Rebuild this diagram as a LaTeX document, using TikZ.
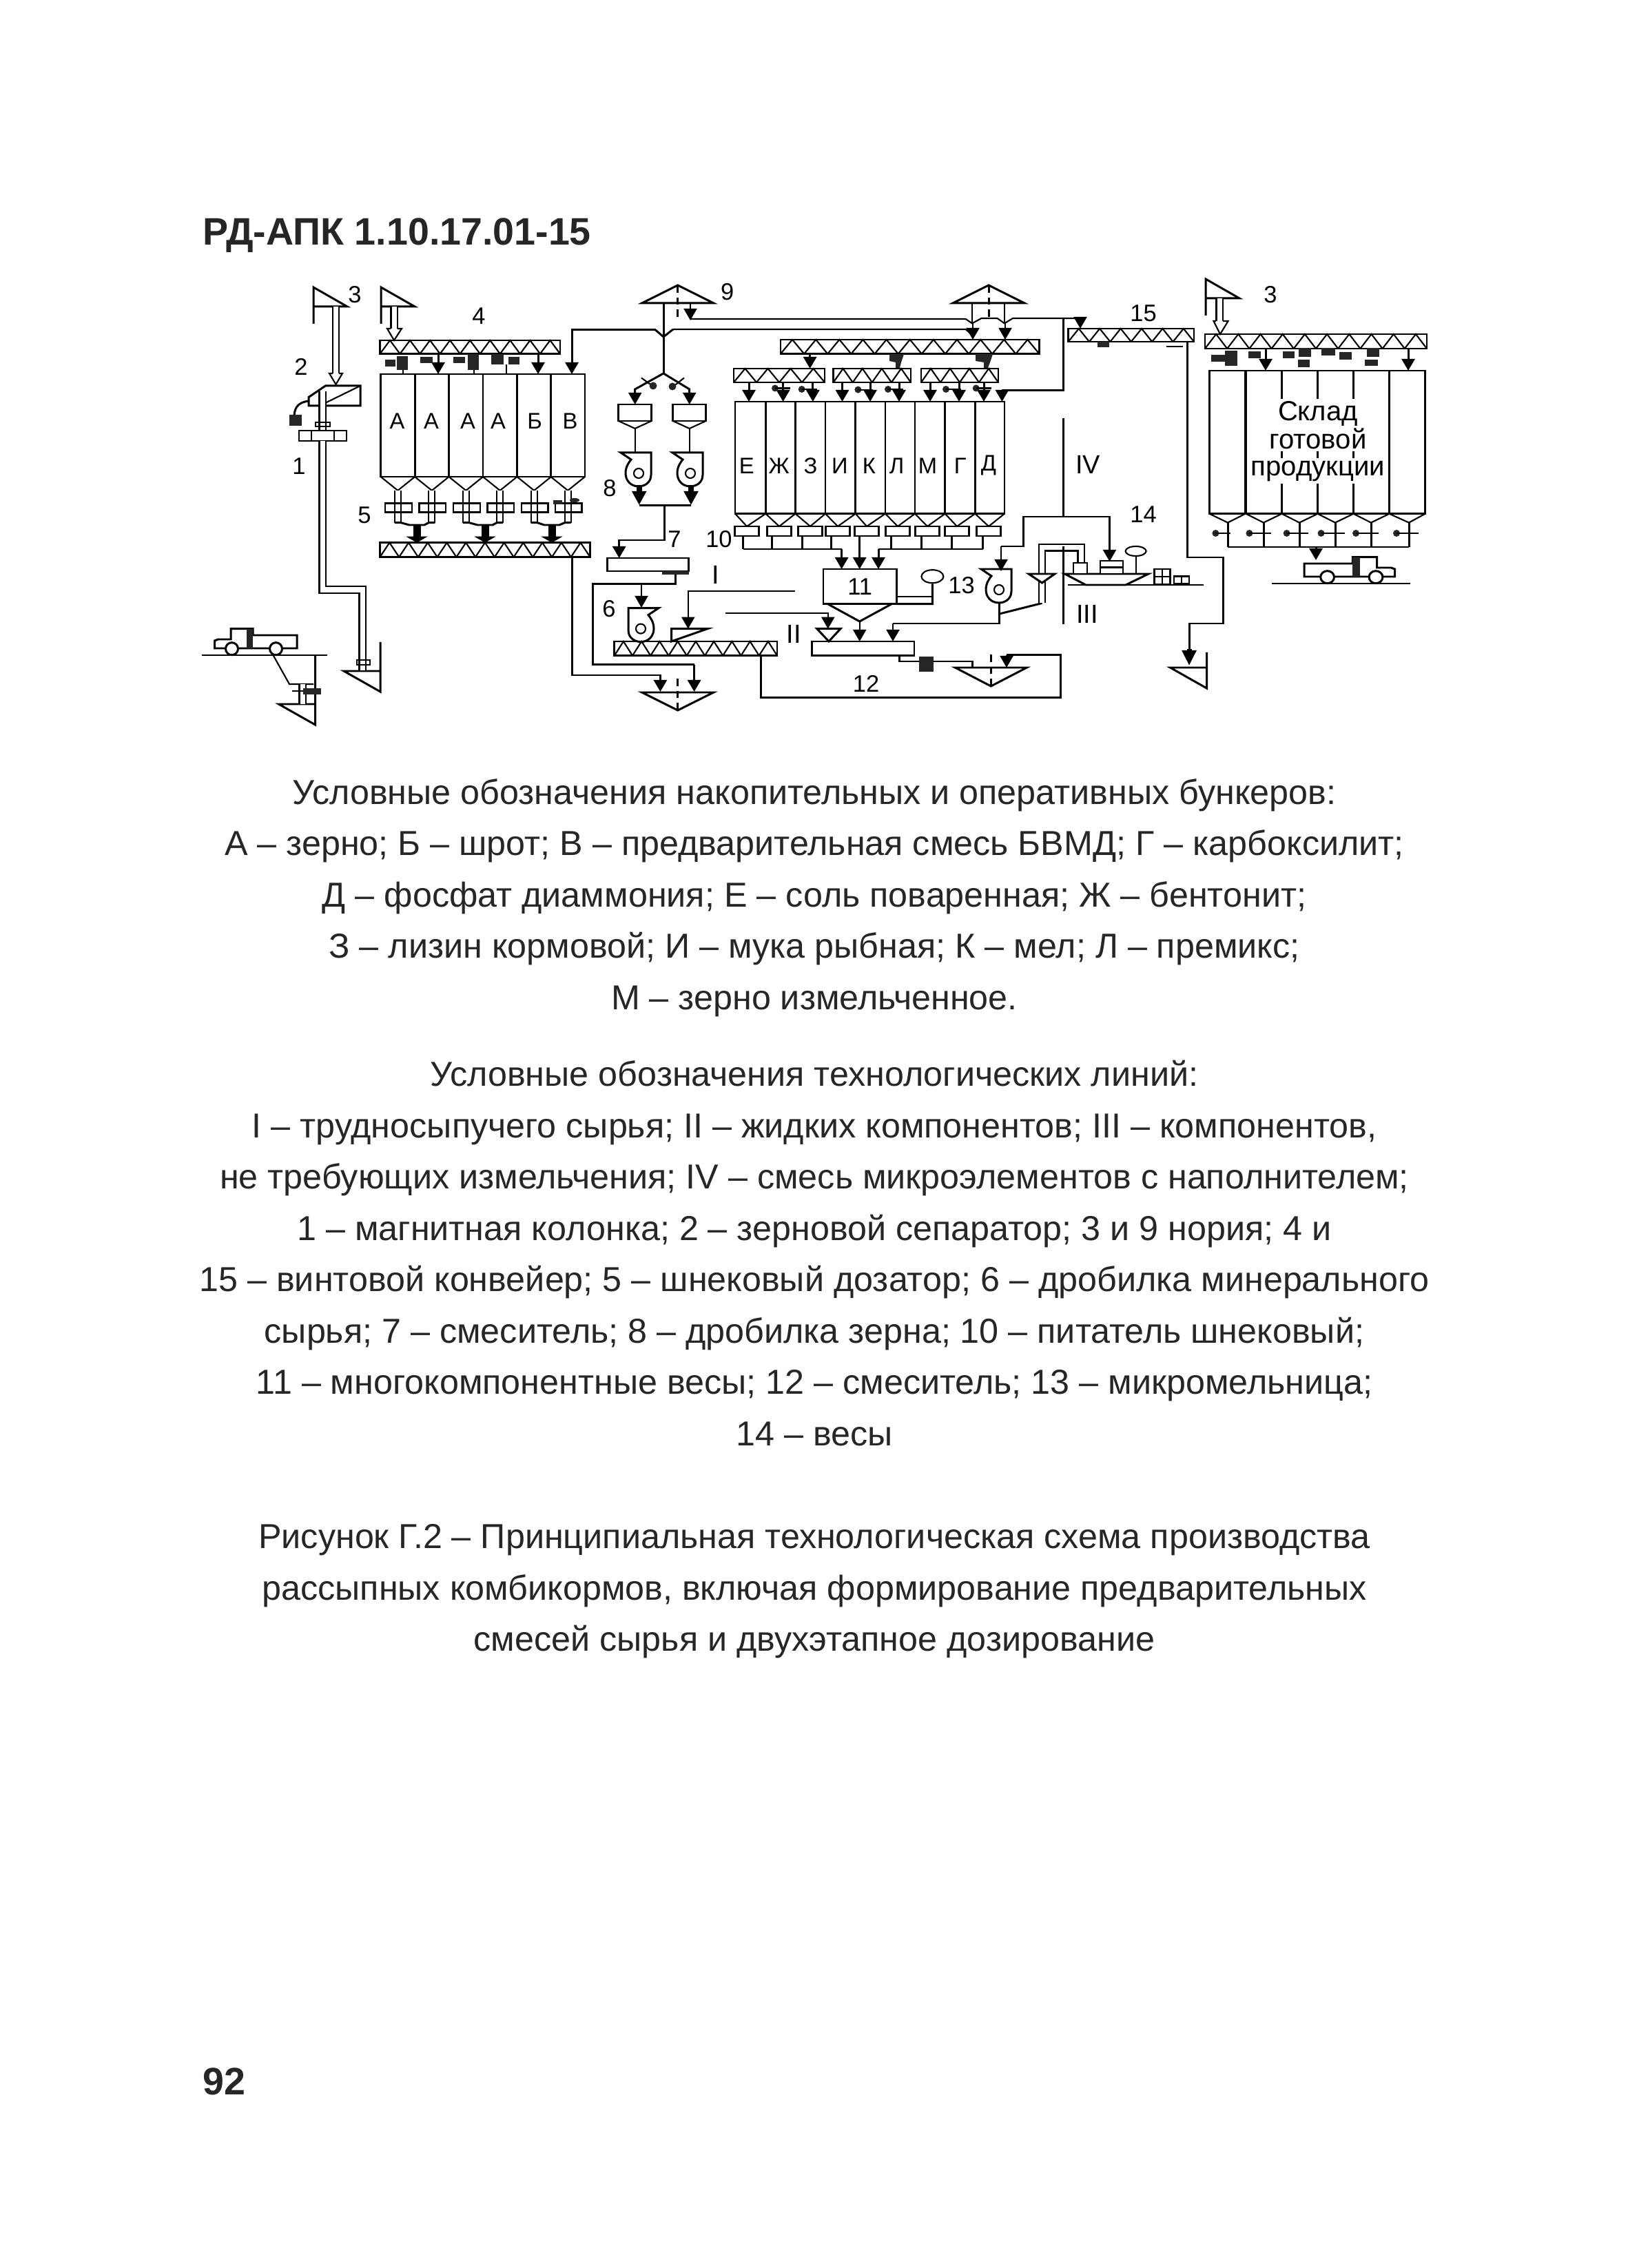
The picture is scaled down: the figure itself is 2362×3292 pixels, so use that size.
\documentclass[tikz,border=0pt]{standalone}
\usepackage{fontspec}
\setmainfont{Liberation Sans}
\usetikzlibrary{shapes.geometric, arrows.meta, calc}

\tikzset{
    pipe/.style={line width=0.6pt, line join=miter},
    heavy/.style={line width=0.85pt},
    flow/.style={pipe, -{Triangle[width=.19cm, length=.17cm]}},
    flowh/.style={heavy, -{Triangle[width=.19cm, length=.17cm]}},
    bigflow/.style={line width=.11cm, -{Triangle[width=.31cm, length=.09cm]}},
    twin/.style={line width=0.6pt, double, double distance=.07cm},
    wall/.style={draw, line width=0.8pt, inner sep=0, outer sep=0},
    smallbox/.style={draw, line width=0.6pt, inner sep=0, outer sep=0, fill=white},
    blob/.style={fill=black!85},
    lbl/.style={font=\fontsize{9.3}{11}\selectfont, inner sep=0},
    numlbl/.style={font=\fontsize{9.8}{11}\selectfont, inner sep=0},
    romanlbl/.style={font=\fontsize{10.8}{12}\selectfont, inner sep=0},
    blocktext/.style={font=\fontsize{14.3}{21.2}\selectfont, align=center, inner sep=0, text=black!85},
    titletext/.style={font=\fontsize{15.8}{18}\bfseries\selectfont, anchor=west, inner sep=0, text=black!85},
    storetext/.style={font=\fontsize{11.4}{12}\selectfont, inner sep=1pt, fill=white, anchor=base}
}

% conveyor: name, x1, y1, x2, y2, teeth
\newcommand{\conveyor}[6]{
    \node[wall, minimum width={(#4-#2)*0.01cm}, minimum height={(#5-#3)*0.01cm}] (#1) at ({(#2+#4)/2},{(#3+#5)/2}) {};
    \pgfmathsetmacro{\beltstep}{(#4-#2)/#6}
    \foreach \i in {1,...,#6}
        \draw[pipe] ({#2+(\i-1)*\beltstep},#5) -- ({#2+(\i-.5)*\beltstep},#3) -- ({#2+\i*\beltstep},#5);
}
% mill: name, x, y, side
\newcommand{\mill}[4]{
    \node[draw, circle, pipe, minimum size=.14cm, inner sep=0] (#1) at (#2,#3) {};
    \begin{scope}[shift={(#2,#3)}, xscale=#4]
        \draw[heavy] (-26,-30) -- (18,-30) -- (18,2) .. controls (18,14) and (8,19) .. (0,19) .. controls (-12,19) and (-19,10) .. (-19,0) .. controls (-19,-10) and (-14,-16) .. (-11,-20) -- cycle;
    \end{scope}
}
% truck: x, ground y, side, stretch
\newcommand{\truck}[3]{
    \begin{scope}[shift={(#1,#2)}, xscale=#3]
        \draw[heavy] (0,-10) -- (0,-21) -- (5,-23) -- (23.5,-23) -- (23.5,-38.4) -- (55.5,-38.4) -- (55.5,-29) -- (119.5,-29) -- (119.5,-10) -- cycle;
        \fill[blob] (46,-38.4) rectangle (55.5,-10);
        \draw[heavy, fill=white] (25,-9.3) circle (.09cm);
        \draw[heavy, fill=white] (89,-9.3) circle (.09cm);
    \end{scope}
}

\begin{document}
\begin{tikzpicture}[x=0.01cm, y=-0.01cm]
    \useasboundingbox (0,0) rectangle (2362,3292);

    % Page text
    \node[titletext] (headline) at (294,342) {РД-АПК 1.10.17.01-15};
    \node[titletext] (pageno) at (294,3021) {92};
    \node[blocktext] (legend1) at (1182,1303) {Условные обозначения накопительных и оперативных бункеров:\\
        А – зерно; Б – шрот; В – предварительная смесь БВМД; Г – карбоксилит;\\
        Д – фосфат диаммония; Е – соль поваренная; Ж – бентонит;\\
        З – лизин кормовой; И – мука рыбная; К – мел; Л – премикс;\\
        М – зерно измельченное.};
    \node[blocktext] (legend2) at (1182,1819) {Условные обозначения технологических линий:\\
        I – трудносыпучего сырья; II – жидких компонентов; III – компонентов,\\
        не требующих измельчения; IV – смесь микроэлементов с наполнителем;\\
        1 – магнитная колонка; 2 – зерновой сепаратор; 3 и 9 нория; 4 и\\
        15 – винтовой конвейер; 5 – шнековый дозатор; 6 – дробилка минерального\\
        сырья; 7 – смеситель; 8 – дробилка зерна; 10 – питатель шнековый;\\
        11 – многокомпонентные весы; 12 – смеситель; 13 – микромельница;\\
        14 – весы};
    \node[blocktext] (caption) at (1182,2310) {Рисунок Г.2 – Принципиальная технологическая схема производства\\
        рассыпных комбикормов, включая формирование предварительных\\
        смесей сырья и двухэтапное дозирование};

    % Elevator flags and funnels
    \foreach \x/\yt in {455/417, 553/417, 1750/405}
        \draw[heavy] (\x,\yt+53) -- (\x,\yt) -- (\x+49,\yt+28) -- (\x,\yt+28);
    \foreach \x/\yb/\yt in {499/974/932, 404.5/1022/951, 1698.5/969/947}
        \draw[heavy] (\x+53,\yt) -- (\x+53,\yb+30) -- (\x,\yb) -- (\x+53,\yb);
    \foreach \x/\ya/\yb/\yc in {983.7/414/440/462, 1435/414/440/462, 983.7/1031/1005/982, 1438.3/996/969/947} {
        \draw[heavy] (\x-52,\yb) -- (\x,\ya) -- (\x+52,\yb) -- cycle;
        \draw[heavy, densely dashed] (\x,\ya) -- (\x,\yc);
    }

    % Intake line
    \coordinate (sep2) at (487.5,445);
    \coordinate (in2) at (487.5,545);
    \draw[twin] (sep2) -- (in2);
    \draw[pipe, fill=white] (483,542) -- (478,542) -- (487.5,558) -- (497,542) -- (492,542);
    \draw[heavy] (448,589) -- (448,576.5) -- (472.5,560) -- (523,560) -- (523,589) -- cycle;
    \draw[pipe] (523,560) -- (472,585);
    \draw[twin] (468,568) -- (468,625);
    \draw[heavy] (448,582) .. controls (434,584) and (428,590) .. (427,603);
    \fill[blob] (420,602.5) rectangle (438,618);
    \draw[pipe] (458,613) rectangle (479,619);
    \node[smallbox, minimum width=.69cm, minimum height=.15cm] (col1) at (468.5,632.5) {};
    \draw[pipe] (452,625) -- (452,640) (485,625) -- (485,640);
    \coordinate (pit1) at (526,973);
    \draw[twin] (col1.south -| 468,0) -- (468,856) -- (526,856) -- (pit1);
    \draw[pipe] (518,958) rectangle (537,965);

    % Left truck and pit
    \truck{311.5}{951}{1}
    \coordinate (grl) at (293,951);
    \draw[heavy] (grl) -- (475,951);
    \draw[pipe] (396.5,951) -- (420,993) -- (455,993);
    \draw[twin] (439,993) -- (439,1022);
    \fill[blob] (440,999) rectangle (466,1008);
    \draw[pipe] (424,1003) -- (440,1003);

    % First bank of bins
    \coordinate (nr2) at (572,445);
    \draw[twin] (nr2) -- (572,480);
    \draw[pipe, fill=white] (567,477) -- (562,477) -- (572,494) -- (583,477) -- (576.5,477);
    \conveyor{conv4}{551.5}{494}{813}{513.6}{9}
    \foreach \n/\cx/\lx/\t in {1/577.4/576.4/А, 2/626.8/626/А, 3/676.3/679/А, 4/725.7/723/А, 5/775.2/776/Б, 6/824.2/827.5/В} {
        \node[wall, minimum width=.494cm, minimum height=1.49cm] (sa\n) at (\cx,617.5) {};
        \node[lbl] (ta\n) at (\lx,611) {\t};
        \draw[pipe] (sa\n.south west) -- (\cx,712) -- (sa\n.south east);
        \draw[twin] (\cx,712) -- (\cx,758.6);
        \node[smallbox, fill=none, minimum width=.385cm, minimum height=.13cm] (fa\n) at (\cx+1,737) {};
    }
    \foreach \l/\r/\mid in {1/2/605, 3/4/704, 5/6/801} {
        \coordinate (ma\mid) at (\mid,762);
        \draw[heavy] ($(sa\l.south)+(-4.5,66.6)$) -- ($(sa\l.south)+(4.5,66.6)$) -- (\mid-11,762) -- (\mid+11,762) -- ($(sa\r.south)+(-4.5,66.6)$) -- ($(sa\r.south)+(4.5,66.6)$);
    }
    \conveyor{conv5}{551.5}{787.7}{856.5}{808.5}{11}
    \foreach \mid in {605, 704, 801}
        \draw[bigflow] (ma\mid) -- (ma\mid |- conv5.north);
    \foreach \xa/\ya/\xb/\yb in {559/522/574/532, 576/517/592/537, 610/518/628/527, 657.5/518/675/527, 679/514/695/531, 679/529/695/537, 713/514/731/529, 738/518/754/529}
        \fill[blob] (\xa,\ya) rectangle (\xb,\yb);
    \foreach \x in {636, 781}
        \draw[flowh] (\x,513.6) -- (\x,543);
    \draw[pipe] (585,537) -- (585,543) (688,537) -- (688,543) (735,529) -- (735,543);
    \fill[blob] (803,726) rectangle (816,732);
    \fill[blob] (834,726) ellipse (.07cm and .03cm);

    % Elevator 9 and distribution
    \coordinate (jn9) at (963,542);
    \draw[heavy] (963,440) -- (jn9);
    \draw[flowh] (951.5,479) -- (830,479) -- (sa6.north -| 830,0);
    \draw[heavy] (951.5,479) -- (963,489);
    \draw[heavy] (977,478) -- (963,489);
    \draw[pipe] (977,478) -- (1401.6,478) -- (1412,487);
    \draw[flow] (1002,440) -- (1002,465);
    \draw[pipe] (1002,463) -- (1401.6,463) -- (1411,469.4) -- (1424.5,462) -- (1447.5,462) -- (1458,469.4) -- (1470,462) -- (1568,462);
    \draw[pipe] (1411,440) -- (1411,469.4) (1458,440) -- (1458,469.4);
    \conveyor{convu}{1133}{493}{1508.5}{513.6}{11}
    \foreach \x in {1412, 1459}
        \draw[flow] (\x,469.4) -- (\x,0 |- convu.north);

    % Grain crushers
    \foreach \n/\cx/\gx/\gy/\ex in {1/921.7/948/560/931, 2/1000.7/976/561/993} {
        \draw[heavy] (jn9) -- (\cx,565) -- (\cx,575);
        \draw[pipe] (\ex,548.5) -- (\gx,\gy+1);
        \fill[blob] (\gx,\gy) circle (.055cm);
        \node[wall, minimum width=.48cm, minimum height=.24cm] (hop\n) at (\cx,599) {};
        \draw[flow] (\cx,570) -- (hop\n.north);
        \draw[pipe] (hop\n.south west) -- (\cx,622) -- (hop\n.south east);
        \draw[pipe] (\cx,622) -- (\cx,657);
    }
    \mill{cr1}{927}{687}{1}
    \mill{cr2}{1002}{687}{1}
    \coordinate (out8a) at (927.7,704);
    \coordinate (out8b) at (1003,704);
    \foreach \p in {out8a, out8b} \draw[bigflow, -{Triangle[width=.2cm, length=.2cm]}, line width=.08cm] (\p) -- ($(\p)+(0,29)$);
    \draw[heavy] (927.7,733.5) -- (1003,733.5);

    % Mixer 7 and mineral crusher 6
    \node[wall, minimum width=1.18cm, minimum height=.19cm] (mix7) at (940.8,819.5) {};
    \fill[blob] (960.7,829) rectangle (999.8,834.5);
    \draw[flowh] (964.4,733.5) -- (964.4,784) -- (898.7,784) -- (mix7.north -| 898.7,0);
    \draw[heavy] (980,834) -- (980,847.5) -- (860.6,847.5) -- (860.6,964.6) -- (1007.6,964.6);
    \draw[flowh] (1007.6,964.6) -- (1007.6,1004);
    \draw[flow] (931,847.5) -- (931,882);
    \mill{cr6}{930}{912.6}{-1}
    \conveyor{convl}{891.8}{931}{1128}{951.6}{9}
    \draw[heavy, fill=white] (974.5,931) -- (974.5,912.6) -- (1027,912.6) -- cycle;
    \draw[flow] (1153.6,858.4) -- (998.8,858.4) -- (998.8,912.6);
    \draw[flowh] (830.7,808.5) -- (830.7,980) -- (958.4,980) -- (958.4,1004);
    \draw[heavy] (1104,951.6) -- (1104,1012.4) -- (1539,1012.4) -- (1539,950.7) -- (1461,950.7);
    \draw[flow] (1461,950.7) -- (1461,969);

    % Additive feed conveyors
    \conveyor{conve1}{1065}{535}{1197}{555}{4}
    \conveyor{conve2}{1209.6}{535}{1322}{555}{4}
    \conveyor{conve3}{1337}{535}{1449}{555}{4}
    \draw[flowh] (1175.6,513.6) -- (conve1.north -| 1175.6,0);
    \foreach \x/\a/\b in {1303/1291/1312, 1431/1416/1441} {
        \fill[blob] (\a,514) -- (\b,514) -- (\b-4,526) -- (\x+3,534) -- (\x-3,534) -- (\x-3,526) -- (\a,524) -- cycle;
    }

    % Second bank of bins
    \foreach \n/\xa/\xb/\lx/\fx/\t in {1/1067/1111.3/1083.8/1084/Е, 2/1111.3/1154.5/1130.6/1131/Ж, 3/1154.5/1198/1176.5/1176/З, 4/1198/1241.8/1218.8/1216/И, 5/1241.8/1285/1261.5/1258/К, 6/1285/1328/1301.5/1303/Л, 7/1328/1371.7/1346.5/1346/М, 8/1371.7/1415.3/1393.8/1389/Г, 9/1415.3/1458/1435/1435/Д} {
        \node[wall, minimum width={(\xb-\xa)*0.01cm}, minimum height=1.626cm] (se\n) at ({(\xa+\xb)/2},664.3) {};
        \node[lbl] (te\n) at (\lx,676) {\t};
        \draw[pipe] (se\n.south west) -- (\fx,764) -- (se\n.south east);
        \node[smallbox, minimum width=.35cm, minimum height=.14cm] (fe\n) at (\fx,771) {};
    }
    \foreach \x in {1087, 1136.6, 1179.8, 1222.5, 1263, 1305, 1350, 1392, 1428}
        \draw[flowh] (\x,555) -- (\x,583);
    \foreach \x/\y in {1125/563.5, 1163.7/565, 1245.4/565.6, 1289/565, 1373/565, 1416.7/563.5} {
        \fill[blob] (\x,\y) circle (.05cm);
        \draw[pipe] (\x,\y) -- (\x+22,\y);
    }
    \foreach \x in {1078.7, 1120.5, 1164, 1206.4, 1293.6, 1337.3, 1381, 1426.8}
        \draw[heavy] (\x,778) -- (\x,797);
    \draw[heavy] (1078.7,797) -- (1221.6,797);
    \draw[heavy] (1275,797) -- (1426.8,797);
    \node[numlbl, wall, minimum width=1.065cm, minimum height=.506cm] (scale11) at (1248.2,851.3) {11};
    \foreach \x in {1221.6, 1275}
        \draw[flowh] (\x,797) -- (\x,0 |- scale11.north);
    \draw[flowh] (1247.7,778) -- (1247.7,0 |- scale11.north);
    \draw[heavy] (1202,877) -- (1247.7,902) -- (1293.6,877);

    % Mixer 12
    \node[wall, minimum width=1.482cm, minimum height=.206cm] (mix12) at (1252.9,941.3) {};
    \draw[flow] (1247.7,902) -- (mix12.north -| 1247.7,0);
    \draw[flow] (1052.6,890) -- (1201.8,890) -- (1201.8,912.6);
    \draw[heavy, fill=white] (1185.8,912.6) -- (1220,912.6) -- (1203,931) -- cycle;
    \draw[heavy] (1305,951.6) -- (1305,960) -- (1411,960) -- (1411,969);
    \fill[blob] (1334,953) rectangle (1355,974.6);
    \node[draw, ellipse, pipe, minimum width=.32cm, minimum height=.19cm, inner sep=0] (gauge11) at (1353.4,836.7) {};
    \draw[heavy] (gauge11.south) -- (1353.4,876.6) -- (scale11.south east);
    \draw[heavy] (1301.5,866) -- (1353.4,866);

    % Micro-mill 13 and lines III, IV
    \mill{cr13}{1450}{856}{1}
    \draw[heavy] (1543,462) -- (1543,567) -- (1454.4,567);
    \draw[flow] (1454.4,567) -- (1454.4,583);
    \draw[heavy] (1543,607) -- (1543,750);
    \draw[flow] (1453,793) -- (1453,829);
    \draw[heavy] (1453,793) -- (1485,793) -- (1485,750) -- (1610.5,750) -- (1610.5,800);
    \draw[flow] (1610.5,790) -- (1610.5,815);
    \draw[heavy] (1450.7,874) -- (1450.7,905) -- (1296,905);
    \draw[flow] (1296,905) -- (mix12.north -| 1296,0);
    \draw[heavy] (1450.7,891) -- (1512.5,875.5);
    \draw[twin] (1512.5,875.5) -- (1512.5,795) -- (1569,795) -- (1569,817);
    \draw[heavy, fill=white] (1493,833) -- (1531,833) -- (1512.5,846) -- cycle;
    \draw[heavy] (1543,793) -- (1543,906);

    % Weigher 14
    \draw[heavy] (1545.4,833) -- (1667,833) -- (1634,849) -- (1576,849) -- cycle;
    \coordinate (gr14) at (1550,849);
    \draw[heavy] (gr14) -- (1747,849);
    \node[smallbox, minimum width=.2cm, minimum height=.16cm] (bx14a) at (1568,825) {};
    \node[smallbox, minimum width=.33cm, minimum height=.19cm] (bx14b) at (1613.7,823.5) {};
    \draw[pipe] (bx14b.west) -- (bx14b.east);
    \node[draw, ellipse, pipe, minimum width=.3cm, minimum height=.14cm, inner sep=0] (gauge14) at (1648.6,800) {};
    \draw[pipe] (gauge14.south) -- (1648.6,833);
    \node[smallbox, minimum width=.23cm, minimum height=.215cm] (bag14) at (1687,837) {};
    \draw[pipe] (bag14.west) -- (bag14.east) (bag14.north) -- (bag14.south);
    \node[smallbox, minimum width=.215cm, minimum height=.11cm] (sm14) at (1715,842) {};
    \draw[pipe] (sm14.north) -- (sm14.south);

    % Conveyor 15 and finished goods store
    \draw[flow] (1568,462) -- (1568,477);
    \conveyor{conv15}{1550.6}{477}{1733}{496}{6}
    \fill[blob] (1593,496) rectangle (1610,504);
    \draw[pipe] (1693,503) -- (1717,503);
    \draw[heavy] (1723,496) -- (1723,809) -- (1775,809) -- (1775,905) -- (1726,905) -- (1726,946);
    \draw[bigflow, -{Triangle[width=.2cm, length=.22cm]}, line width=.07cm] (1726,942) -- (1726,966);
    \coordinate (nr3) at (1770,433);
    \draw[twin] (nr3) -- (1770,470);
    \draw[pipe, fill=white] (1765,466) -- (1761.4,466) -- (1771,485) -- (1782.6,466) -- (1775,466);
    \conveyor{convr}{1749}{485}{2071}{506}{10}
    \foreach \n/\xa/\tipx/\gx/\gl in {1/1755/1782/1764.4/22, 2/1808/1834/1813.4/32, 3/1860/1886/1867.6/31, 4/1912/1938/1917.5/34, 5/1964/1990/1968/33, 6/2016/2045/2027/32} {
        \node[wall, minimum width=.525cm, minimum height=2.076cm] (sr\n) at (\xa+26.5,641.8) {};
        \draw[pipe] (sr\n.south west) -- (\tipx,758.6) -- (sr\n.south east);
        \draw[heavy] (\tipx,758.6) -- (\tipx,794);
        \fill[blob] (\gx,774) circle (.05cm);
        \draw[pipe] (\gx,774) -- (\gx+\gl,774);
    }
    \draw[heavy] (1782,794) -- (2045,794);
    \draw[flowh] (1910,794) -- (1910,813);
    \foreach \xa/\ya/\xb/\yb in {1758/515/1777.5/525, 1778/509/1795.6/531, 1812/510/1829.5/520, 1862/510/1879/520, 1885/505/1903/518, 1884/522/1901/533, 1918/505/1938/516, 1944/511/1962/522, 1983.5/505/2001.6/518, 1981/522/2000/531}
        \fill[blob] (\xa,\ya) rectangle (\xb,\yb);
    \foreach \x in {1837, 2044}
        \draw[flowh] (\x,506) -- (\x,0 |- sr1.north);
    \node[storetext] (store1) at (1913,611) {Склад};
    \node[storetext] (store2) at (1913,651.5) {готовой};
    \node[storetext] (store3) at (1913,690.5) {продукции};
    \truck{2024.5}{847}{-1.1}
    \coordinate (grr) at (1845.5,847);
    \draw[heavy] (grr) -- (2047,847);

    % Number labels
    \foreach \name/\x/\y/\t in {a/515/428/3, b/437/532/2, c/434/677/1, d/695/459/4, e/529/748/5, f/885/709/8, g/979/782.5/7, h/1055.8/424/9, i/1043.4/782.5/10, k/884/884/6, o/1257/992/12, p/1395.6/850/13, s/1659.5/746.5/14, t/1659.5/455/15, u/1844/428/3}
        \node[numlbl] (num\name) at (\x,\y) {\t};
    \foreach \name/\x/\y/\t in {j/1039/834.5/I, m/1152/920/II, q/1579/674/IV, r/1578/891/III}
        \node[romanlbl] (rom\name) at (\x,\y) {\t};
\end{tikzpicture}
\end{document}
